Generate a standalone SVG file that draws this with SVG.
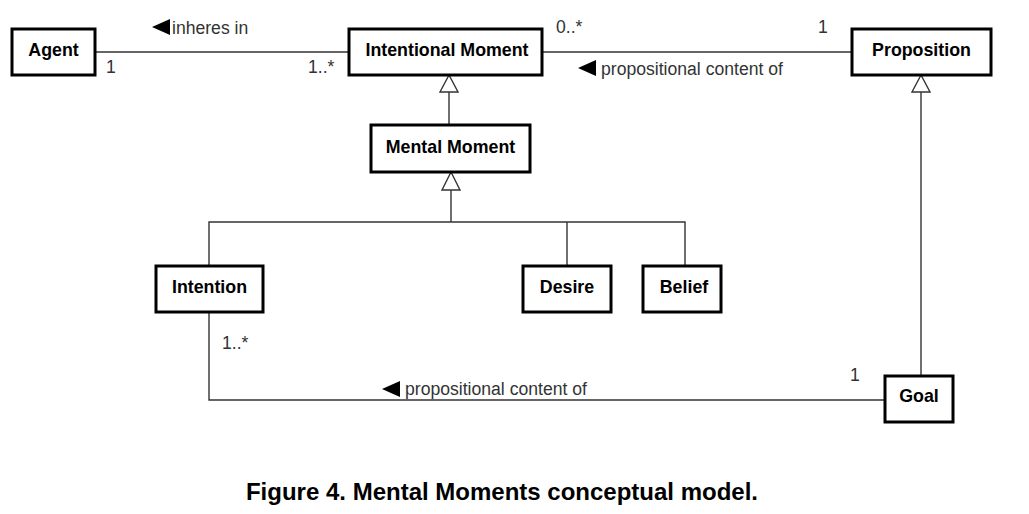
<svg xmlns="http://www.w3.org/2000/svg" width="1029" height="514" viewBox="0 0 1029 514">
<style>
.box{fill:#fff;stroke:#000;stroke-width:3}
.nl{font-family:"Liberation Sans",Arial,sans-serif;font-weight:bold;font-size:17.8px;fill:#000;text-anchor:middle}
.lbl{font-family:"Liberation Sans",Arial,sans-serif;font-size:17.6px;fill:#333}
.ln{fill:none;stroke:#333;stroke-width:1.4}
.gen{fill:#fff;stroke:#333;stroke-width:1.4}
.dir{fill:#000}
.cap{font-family:"Liberation Sans",Arial,sans-serif;font-weight:bold;font-size:24px;fill:#000;text-anchor:middle}
</style>
<rect width="1029" height="514" fill="#fff"/>
<g id="connectors">
<line class="ln" x1="95" y1="52" x2="349" y2="52"/>
<line class="ln" x1="542" y1="52" x2="852" y2="52"/>
<line class="ln" x1="449" y1="92" x2="449" y2="125"/>
<polygon class="gen" points="449,75 440,92 458,92"/>
<line class="ln" x1="451" y1="190" x2="451" y2="222"/>
<polygon class="gen" points="451,172 442,190 460,190"/>
<polyline class="ln" points="209,266 209,222 685,222 685,266"/>
<line class="ln" x1="567" y1="222" x2="567" y2="266"/>
<line class="ln" x1="921" y1="92" x2="921" y2="376"/>
<polygon class="gen" points="921,75 912,92 930,92"/>
<polyline class="ln" points="209,312 209,400 885,400"/>
<polygon class="dir" points="152,27 170,19 170,35"/>
<text class="lbl" x="172" y="34">inheres in</text>
<text class="lbl" x="106" y="73">1</text>
<text class="lbl" x="308" y="73">1..*</text>
<text class="lbl" x="556" y="33">0..*</text>
<text class="lbl" x="818" y="33">1</text>
<polygon class="dir" points="578,68 596,60 596,76"/>
<text class="lbl" x="601" y="75">propositional content of</text>
<text class="lbl" x="222" y="349">1..*</text>
<text class="lbl" x="850" y="381">1</text>
<polygon class="dir" points="382,389 400,381 400,397"/>
<text class="lbl" x="405" y="395">propositional content of</text>
</g>
<g id="agent"><rect class="box" x="12" y="29" width="83" height="46"/><text class="nl" x="53.5" y="56">Agent</text></g>
<g id="intentional-moment"><rect class="box" x="349" y="29" width="193" height="46"/><text class="nl" x="447" y="56">Intentional Moment</text></g>
<g id="proposition"><rect class="box" x="852" y="29" width="139" height="46"/><text class="nl" x="921.5" y="56">Proposition</text></g>
<g id="mental-moment"><rect class="box" x="371" y="125" width="159" height="47"/><text class="nl" x="450.5" y="153">Mental Moment</text></g>
<g id="intention"><rect class="box" x="156" y="266" width="107" height="46"/><text class="nl" x="209.5" y="293">Intention</text></g>
<g id="desire"><rect class="box" x="523" y="266" width="88" height="46"/><text class="nl" x="567" y="293">Desire</text></g>
<g id="belief"><rect class="box" x="643" y="266" width="78" height="46"/><text class="nl" x="684" y="293">Belief</text></g>
<g id="goal"><rect class="box" x="885" y="376" width="68" height="46"/><text class="nl" x="919" y="402">Goal</text></g>
<text class="cap" x="502" y="500">Figure 4. Mental Moments conceptual model.</text>
</svg>
